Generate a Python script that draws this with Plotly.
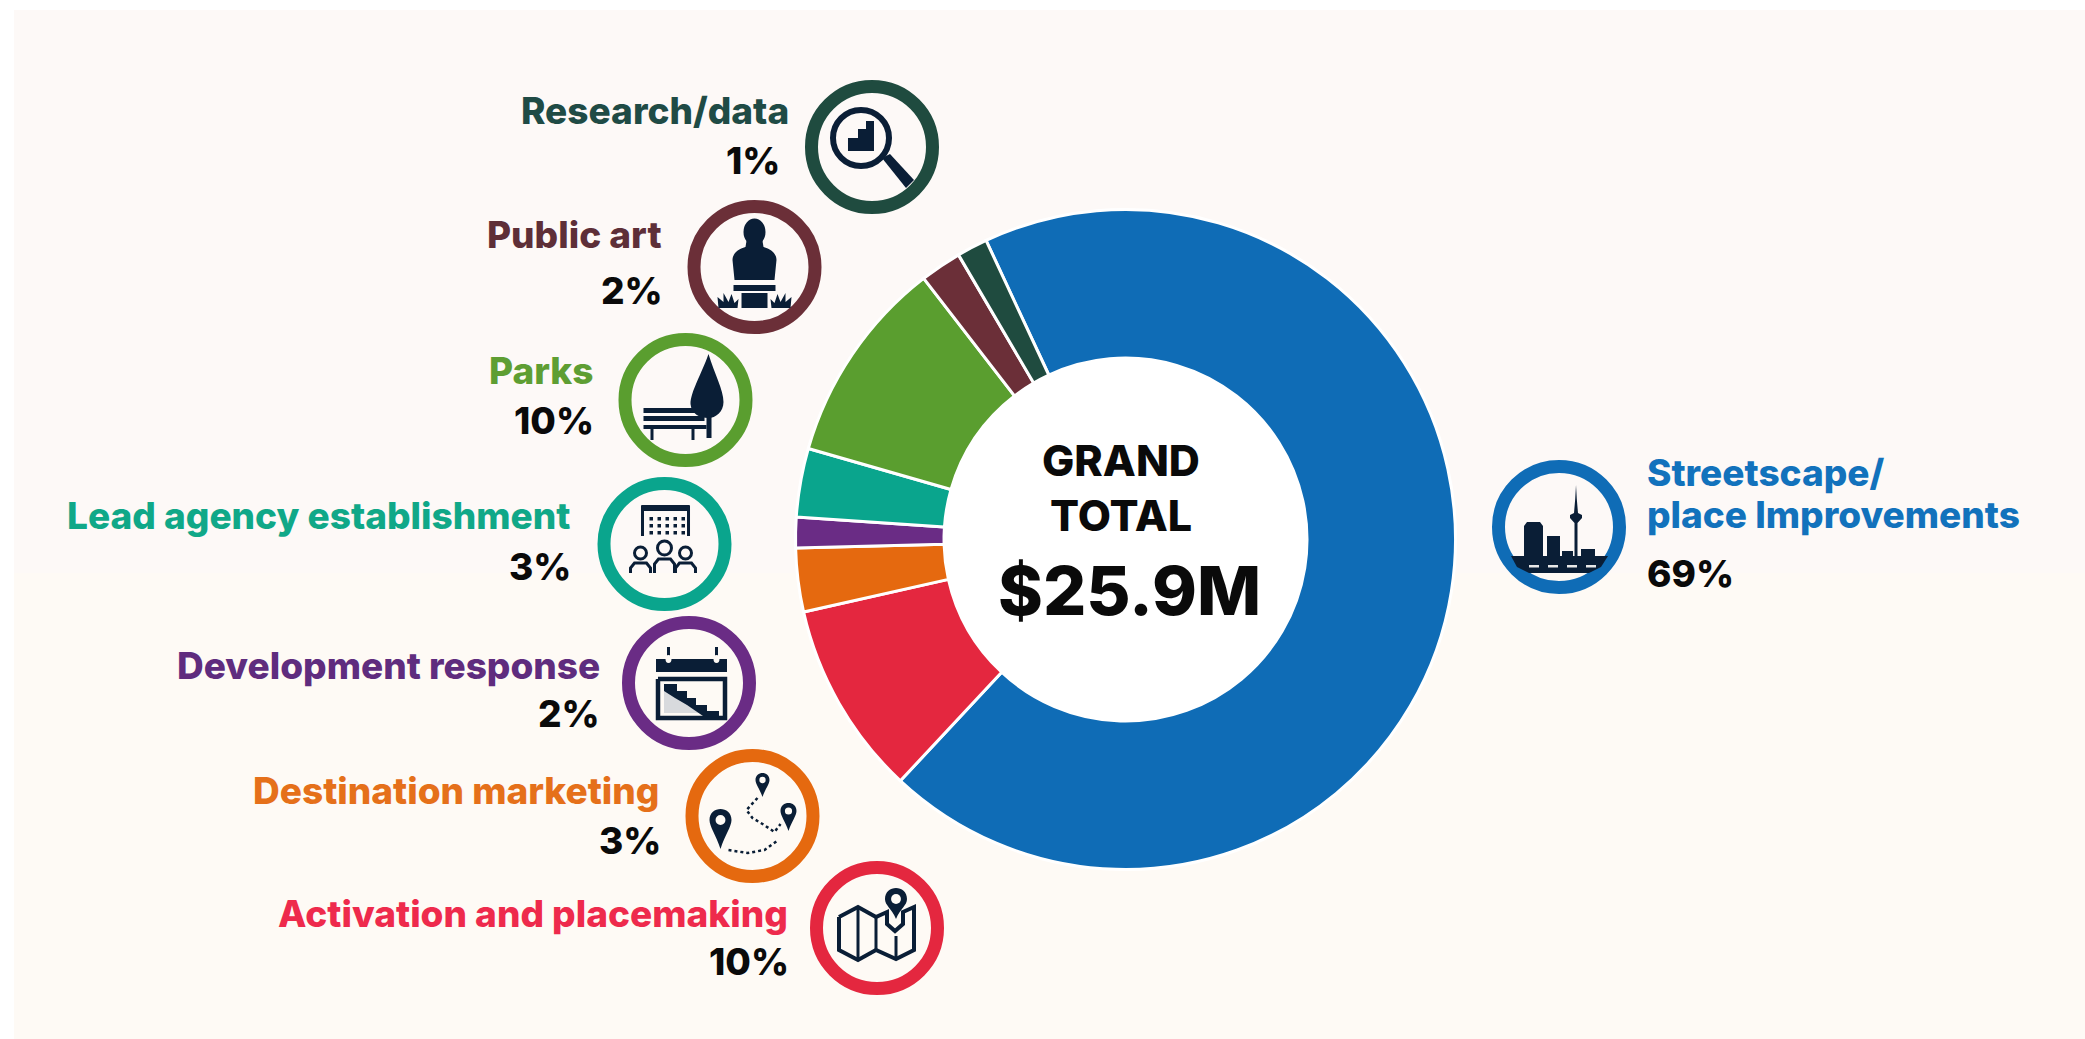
import plotly.graph_objects as go

W, H = 2085, 1039

categories = ["Streetscape/place Improvements", "Activation and placemaking", "Destination marketing",
              "Development response", "Lead agency establishment", "Parks", "Public art", "Research/data"]
values = [68.9, 9.53, 3.11, 1.5, 3.36, 10.08, 2.03, 1.5]
percent_labels = ["69%", "10%", "3%", "2%", "3%", "10%", "2%", "1%"]
colors = ["#0F6CB6", "#E4273F", "#E5690F", "#6A2C85", "#0AA58D", "#5A9E2F", "#6B2F38", "#1F4B3F"]
text_colors = ["#1272BC", "#EE2A4C", "#E5701A", "#5F2C7E", "#10A888", "#5E9E33", "#5E2F38", "#1F4B45"]
center_lines = ["GRAND", "TOTAL", "$25.9M"]

FONT = "Inter"
NAVY = "#0A1E36"
BG = "#FDF9F7"
BG2 = "#FEFAF5"


def X(v):
    return v / W


def Y(v):
    return 1 - v / H


shapes = []


def poly(cx, cy, pts, fill=NAVY, close=True, line=None, lw=0, dash=None):
    d = "M" + " L".join(f"{X(cx + a):.5f},{Y(cy + b):.5f}" for a, b in pts)
    if close:
        d += " Z"
    s = dict(type="path", xref="paper", yref="paper", path=d, layer="above",
             fillcolor=fill if close else "rgba(0,0,0,0)",
             line=dict(width=lw, color=line or "rgba(0,0,0,0)"))
    if dash:
        s["line"]["dash"] = dash
    shapes.append(s)


def curve(cx, cy, d_items, fill=NAVY):
    out = []
    for cmd, pts in d_items:
        out.append(cmd + " ".join(f"{X(cx + a):.5f},{Y(cy + b):.5f}" for a, b in pts))
    shapes.append(dict(type="path", xref="paper", yref="paper", path=" ".join(out) + " Z", layer="above",
                       fillcolor=fill, line=dict(width=0, color="rgba(0,0,0,0)")))


def ell(cx, cy, rx, ry, fill="rgba(0,0,0,0)", line=None, lw=0, layer="above"):
    shapes.append(dict(type="circle", xref="paper", yref="paper", x0=X(cx - rx), x1=X(cx + rx),
                       y0=Y(cy + ry), y1=Y(cy - ry), fillcolor=fill, layer=layer,
                       line=dict(width=lw, color=line or "rgba(0,0,0,0)")))


def rect(cx, cy, x0, y0, x1, y1, fill=NAVY):
    poly(cx, cy, [(x0, y0), (x1, y0), (x1, y1), (x0, y1)], fill=fill)


def pin(cx, cy, x, top, bottom, rw, bg=BG2):
    r = rw
    curve(cx, cy, [("M", [(x, bottom)]),
                   ("C", [(x - r * 0.4, bottom - (bottom - top) * 0.35), (x - r, top + r * 1.6), (x - r, top + r)]),
                   ("C", [(x - r, top - r * 0.33), (x + r, top - r * 0.33), (x + r, top + r)]),
                   ("C", [(x + r, top + r * 1.6), (x + r * 0.4, bottom - (bottom - top) * 0.35), (x, bottom)])])
    ell(cx + x, cy + top + r, r * 0.45, r * 0.45, fill=bg)


# background sheet (slightly pinker above, creamier below)
shapes.append(dict(type="rect", xref="paper", yref="paper", x0=X(14), x1=1, y0=Y(573), y1=Y(10),
                   fillcolor=BG, layer="below", line=dict(width=0)))
shapes.append(dict(type="rect", xref="paper", yref="paper", x0=X(14), x1=1, y0=0, y1=Y(573),
                   fillcolor=BG2, layer="below", line=dict(width=0)))

# donut
DCX, DCY, DR = 1125.5, 539.5, 330
ell(DCX - 1, DCY, 183, 183, fill="#FFFFFF", layer="below")

# icon rings, same order as categories
ring_x = [1559, 877, 752.5, 689, 664.5, 685.5, 754.5, 872]
ring_y = [527, 928, 816, 683, 544, 400, 267, 147]
for cx, cy, col in zip(ring_x, ring_y, colors):
    ell(cx, cy, 60.5, 60.5, line=col, lw=13)

# --- streetscape icon
cx, cy = ring_x[0], ring_y[0]
poly(cx, cy, [(-48, 29), (49, 29), (42, 40), (30, 46), (-30, 46), (-42, 40)])
for a in (-30, -11, 8, 27):
    rect(cx, cy, a, 38, a + 10, 40.5, fill="#E8E8E8")
rect(cx, cy, -35, -1, -16, 29)
poly(cx, cy, [(-35, -1), (-32, -5), (-19, -5), (-16, -1)])
rect(cx, cy, -12, 9, 1, 29)
rect(cx, cy, 3, 24, 14, 29)
rect(cx, cy, 22, 22, 36, 29)
poly(cx, cy, [(15.5, 29), (15.5, -4), (11, -9), (11, -12), (15, -14), (16.2, -28), (17, -42), (17.8, -28), (19, -14),
              (23, -12), (23, -9), (18.5, -4), (18.5, 29)])

# --- activation icon: folded map with pin
cx, cy = ring_x[1], ring_y[1]
poly(cx, cy, [(-38, -11), (-19, -21), (-1, -11), (10, -16), (10, -4), (18, 3), (26, -4), (26, -16), (37, -21),
              (37, 22), (19, 31), (-1, 22), (-19, 32), (-38, 22), (-38, -11)], close=False, line=NAVY, lw=4)
poly(cx, cy, [(-19, -21), (-19, 32)], close=False, line=NAVY, lw=3)
poly(cx, cy, [(-1, -11), (-1, 22)], close=False, line=NAVY, lw=3)
poly(cx, cy, [(19, 8), (19, 31)], close=False, line=NAVY, lw=3)
pin(cx, cy, 19, -40, -9, 11)

# --- destination icon: three pins and dotted route
cx, cy = ring_x[2], ring_y[2]
poly(cx, cy, [(5, -18), (-6, -6), (0, 2), (10, 8), (22, 16), (28, 8)], close=False, line=NAVY, lw=2.5, dash="dot")
poly(cx, cy, [(-24, 34), (-5, 37), (12, 34), (26, 24)], close=False, line=NAVY, lw=2.5, dash="dot")
pin(cx, cy, 10, -43, -19, 7)
pin(cx, cy, 36, -13, 15, 8)
pin(cx, cy, -32, -7, 33, 11)

# --- development icon: calendar with falling steps
cx, cy = ring_x[3], ring_y[3]
rect(cx, cy, -33, -24, 38, -11)
rect(cx, cy, -22, -36, -19, -22, fill=NAVY)
rect(cx, cy, 26, -36, 29, -22, fill=NAVY)
ell(cx - 20.5, cy - 24, 3, 4, fill=BG2)
ell(cx + 27.5, cy - 24, 3, 4, fill=BG2)
poly(cx, cy, [(-31, -4), (36, -4), (36, 35), (-31, 35), (-31, -4)], close=False, line=NAVY, lw=4.5)
poly(cx, cy, [(-25, 1), (-16, 1), (-16, 8), (-6, 8), (-6, 15), (3, 15), (3, 22), (14, 22), (14, 28), (30, 28),
              (30, 30), (-25, 30)], fill="#D8DADD")
poly(cx, cy, [(-25, 1), (-12, 1), (-12, 8), (-2, 8), (-2, 15), (7, 15), (7, 22), (18, 22), (18, 28), (30, 28),
              (30, 35), (14, 33), (-2, 22), (-14, 15), (-25, 8)])

# --- lead agency icon: building and three people
cx, cy = ring_x[4], ring_y[4]
poly(cx, cy, [(-22, -8), (-22, -37), (24, -37), (24, -8)], close=False, line=NAVY, lw=3)
rect(cx, cy, -23, -39, 25, -33)
for row in (-27, -20, -13):
    for col in (-15, -7, 1, 9, 17):
        rect(cx, cy, col, row, col + 3.5, row + 3.5, fill=NAVY)
for a, b, rr in ((-24, 9, 6), (0, 4, 7), (21, 9, 6)):
    ell(cx + a, cy + b, rr, rr, line=NAVY, lw=3)
for a, top in ((-24, 19), (0, 15), (21, 19)):
    poly(cx, cy, [(a - 10, 29), (a - 10, top + 5), (a - 6, top), (a + 6, top), (a + 10, top + 5), (a + 10, 29)],
         close=False, line=NAVY, lw=3)

# --- parks icon: tree and bench
cx, cy = ring_x[5], ring_y[5]
curve(cx, cy, [("M", [(23, -46)]),
               ("C", [(16, -26), (5, -8), (5, 4)]),
               ("C", [(6, 14), (14, 18), (23, 18)]),
               ("C", [(30, 18), (38, 12), (38, 2)]),
               ("C", [(38, -10), (29, -26), (23, -46)])])
rect(cx, cy, 21, 10, 26, 38)
rect(cx, cy, -42, 8, 19, 13)
rect(cx, cy, -42, 16, 19, 21)
rect(cx, cy, -42, 25, 21, 29)
rect(cx, cy, -35, 29, -32, 40)
rect(cx, cy, 6, 29, 9, 40)

# --- public art icon: bust on plinth with grass
cx, cy = ring_x[6], ring_y[6]
ell(cx, cy - 35, 11, 13.5, fill=NAVY)
curve(cx, cy, [("M", [(-8, -26)]), ("L", [(8, -26)]), ("L", [(9, -20)]),
               ("C", [(17, -18), (22, -13), (22, -7)]), ("L", [(20, 13)]), ("L", [(-20, 13)]),
               ("L", [(-22, -7)]), ("C", [(-22, -13), (-17, -18), (-9, -20)])])
rect(cx, cy, -21, 18, 21, 24)
rect(cx, cy, -13, 26, 13, 41)
for sgn in (-1, 1):
    poly(cx, cy, [(sgn * 17, 41), (sgn * 16, 32), (sgn * 20, 36), (sgn * 23, 27), (sgn * 26, 35), (sgn * 31, 26),
                  (sgn * 31, 35), (sgn * 37, 30), (sgn * 36, 41)])

# --- research icon: magnifier with steps
cx, cy = ring_x[7], ring_y[7]
ell(cx - 11, cy - 9, 28, 28, line=NAVY, lw=6)
poly(cx, cy, [(10, 11), (18, 7), (42, 33), (34, 41)])
poly(cx, cy, [(-24, 4), (-24, -9), (-14, -9), (-14, -18), (-6, -18), (-6, -26), (2, -26), (2, 4)])

# text
annotations = []


def text(x, y, s, color, size, anchor="right", weight=700):
    annotations.append(dict(xref="paper", yref="paper", x=X(x), y=Y(y), text=s, showarrow=False,
                            xanchor=anchor, yanchor="middle", align=anchor,
                            font=dict(family=FONT, size=size, color=color, weight=weight)))


NAME_SIZE = 37
PCT_SIZE = 37
name_right = [None, 790, 661, 602, 572, 595, 664, 791]
name_y = [None, 913, 790, 665, 515, 370, 235, 110]
pct_y = [573, 961, 840, 713, 566, 421, 290, 160]
pct_right = [None, 791, 663, 602, 573, 596, 665, 782]
for i in range(1, 8):
    text(name_right[i], name_y[i], categories[i], text_colors[i], NAME_SIZE, weight=800)
    text(pct_right[i], pct_y[i], percent_labels[i], "#0A0A0A", PCT_SIZE, weight=800)
first, second = categories[0].split("/")
text(1645, 472, first + "/", text_colors[0], NAME_SIZE, "left", 800)
text(1645, 514, second, text_colors[0], NAME_SIZE, "left", 800)
text(1645, 573, percent_labels[0], "#0A0A0A", PCT_SIZE, "left", 800)

text(1121, 460, center_lines[0], "#0A0A0A", 43, "center", 800)
text(1121, 515, center_lines[1], "#0A0A0A", 43, "center", 800)
text(1129, 590, center_lines[2], "#0A0A0A", 68, "center", 800)

fig = go.Figure(go.Pie(
    labels=categories, values=values, hole=0.55, sort=False, direction="clockwise", rotation=-25,
    marker=dict(colors=colors, line=dict(color="#FFFFFF", width=3)),
    textinfo="none", hoverinfo="label+percent",
    domain=dict(x=[X(DCX - DR), X(DCX + DR)], y=[Y(DCY + DR), Y(DCY - DR)]),
))
fig.update_layout(width=W, height=H, margin=dict(l=0, r=0, t=0, b=0), paper_bgcolor="#FFFFFF",
                  showlegend=False, shapes=shapes, annotations=annotations)
fig.write_html("out.html", config=dict(displayModeBar=False),
               post_script="document.body.style.margin='0';document.documentElement.style.overflow='hidden';")
